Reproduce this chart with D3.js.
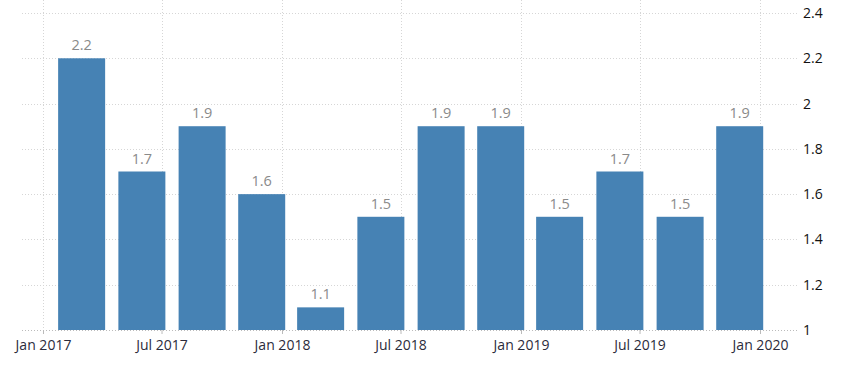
<!DOCTYPE html>
<html>
<head>
<meta charset="utf-8">
<script src="https://cdn.jsdelivr.net/npm/d3@7"></script>
<style>
  body { margin: 0; background: #fff; }
  svg text { font-family: 'Open Sans', sans-serif; }
</style>
</head>
<body>
<div id="chart"></div>
<script>
// quarterly values, plotted at the last month of each quarter
const quarters = ['2017-03', '2017-06', '2017-09', '2017-12', '2018-03', '2018-06',
  '2018-09', '2018-12', '2019-03', '2019-06', '2019-09', '2019-12']
const values = [2.2, 1.7, 1.9, 1.6, 1.1, 1.5, 1.9, 1.9, 1.5, 1.7, 1.5, 1.9]
const xTicks = ['2017-01', '2017-07', '2018-01', '2018-07', '2019-01', '2019-07', '2020-01']
const yTicks = [1, 1.2, 1.4, 1.6, 1.8, 2, 2.2, 2.4]

const width = 865
const height = 370
const parse = d3.timeParse('%Y-%m')
const data = quarters.map((q, i) => ({ date: parse(q), value: values[i] }))

const svg = d3.select('#chart')
  .append('svg')
  .attr('width', width)
  .attr('height', height)

const x = d3.scaleTime()
  .domain([parse('2017-01'), parse('2020-01')])
  .range([43, 760])

const y = d3.scaleLinear()
  .domain([1, 2.4])
  .range([330, 13])

const plotLeft = 22
const plotRight = 797
const barW = 47

// horizontal gridlines
svg.append('g')
  .selectAll('line')
  .data(yTicks)
  .enter()
  .append('line')
  .attr('x1', plotLeft)
  .attr('x2', plotRight)
  .attr('y1', (d) => Math.round(y(d)) + 0.5)
  .attr('y2', (d) => Math.round(y(d)) + 0.5)
  .attr('stroke', (d) => d === 1 ? '#bbb' : '#d6d6d6')
  .attr('stroke-dasharray', '1,2')

// vertical gridlines
svg.append('g')
  .selectAll('line')
  .data(xTicks.map(parse))
  .enter()
  .append('line')
  .attr('x1', (d) => Math.round(x(d)) + 0.5)
  .attr('x2', (d) => Math.round(x(d)) + 0.5)
  .attr('y1', 0)
  .attr('y2', y(1))
  .attr('stroke', '#d6d6d6')
  .attr('stroke-dasharray', '1,2')

// bars
svg.append('g')
  .selectAll('rect')
  .data(data)
  .enter()
  .append('rect')
  .attr('x', (d) => x(d.date) - barW / 2)
  .attr('y', (d) => y(d.value))
  .attr('width', barW)
  .attr('height', (d) => y(1) - y(d.value))
  .attr('fill', '#4682b4')

// value labels
svg.append('g')
  .selectAll('text')
  .data(data)
  .enter()
  .append('text')
  .attr('x', (d) => x(d.date))
  .attr('y', (d) => y(d.value) - 8)
  .attr('text-anchor', 'middle')
  .attr('font-size', '14.5px')
  .attr('fill', '#8a8a8a')
  .text((d) => d.value)

// x axis
const xAxis = d3.axisBottom(x)
  .tickValues(xTicks.map(parse))
  .tickFormat(d3.timeFormat('%b %Y'))
  .tickSize(4)
  .tickPadding(6)

const gx = svg.append('g')
  .attr('transform', `translate(0,${y(1)})`)
  .call(xAxis)
gx.select('.domain').remove()
gx.selectAll('line').attr('stroke', '#bbb')
gx.selectAll('text')
  .attr('font-size', '14px')
  .attr('fill', '#2b2b3b')
  .attr('font-family', "'Open Sans', sans-serif")

// y axis on right
const yAxis = d3.axisRight(y)
  .tickValues(yTicks)
  .tickFormat((d) => d)
  .tickSize(0)
  .tickPadding(6)

const gy = svg.append('g')
  .attr('transform', `translate(${plotRight},0)`)
  .call(yAxis)
gy.select('.domain').remove()
gy.selectAll('text')
  .attr('font-size', '14px')
  .attr('fill', '#111')
  .attr('font-family', "'Open Sans', sans-serif")
</script>
</body>
</html>
